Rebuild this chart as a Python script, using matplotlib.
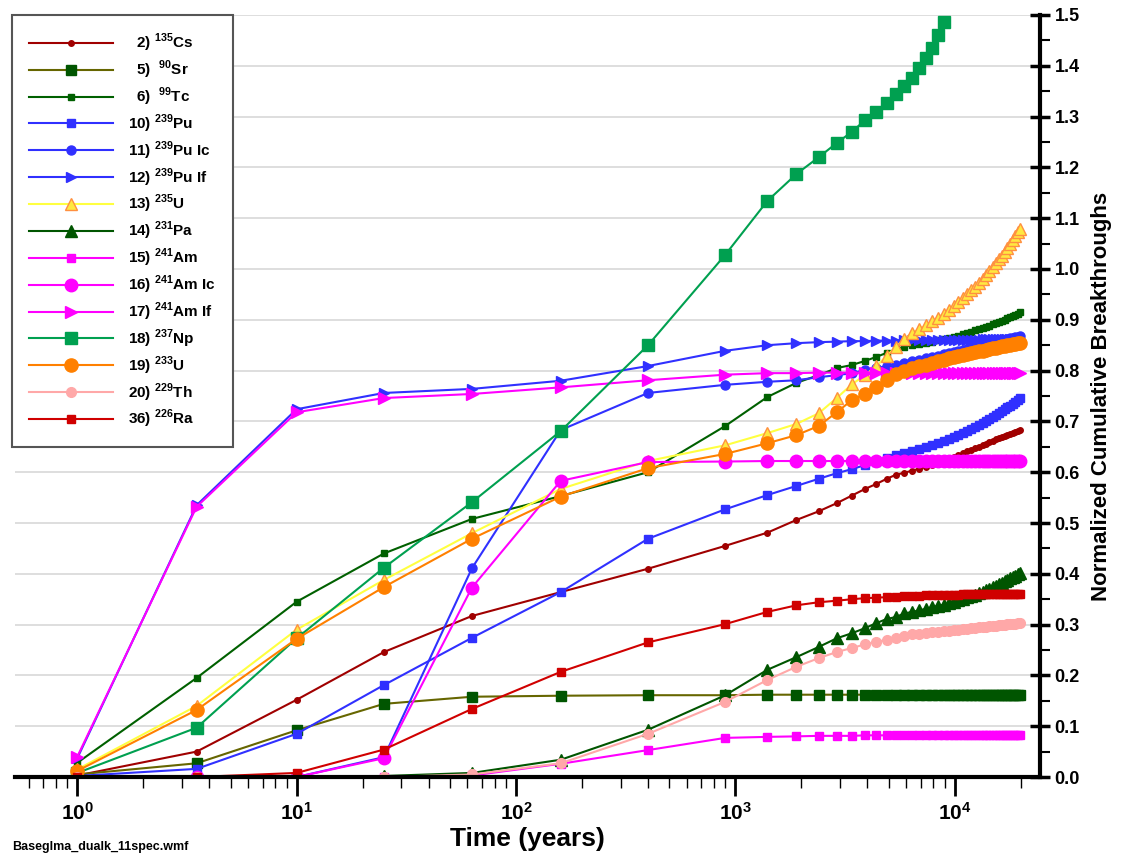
import matplotlib
matplotlib.use("Agg")
import matplotlib.pyplot as plt
from matplotlib.ticker import LogLocator, MultipleLocator, NullFormatter, FixedLocator
import numpy as np

t_early = [1, 3.5, 10, 25, 63, 160, 400, 900]
t_dense = list(range(1400, 20000, 500))  # 38 points
times = t_early + t_dense

cs = [0.003, 0.050, 0.152, 0.246, 0.317, 0.364, 0.410, 0.455,
      0.481, 0.506, 0.523, 0.539, 0.554, 0.567, 0.577, 0.587, 0.595,
      0.599, 0.603, 0.607, 0.611, 0.615, 0.619, 0.623, 0.627, 0.630, 0.634, 0.637, 0.641, 0.644, 0.647,
      0.650, 0.653, 0.656, 0.659, 0.662, 0.665, 0.667, 0.670, 0.672, 0.674, 0.676, 0.678, 0.680, 0.682, 0.683]
sr = [0.005, 0.027, 0.092, 0.144, 0.158, 0.160, 0.161, 0.161] + [0.162] * 38
tc = [0.028, 0.195, 0.345, 0.440, 0.508, 0.553, 0.600, 0.691,
      0.748, 0.776, 0.791, 0.805, 0.811, 0.819, 0.827, 0.835, 0.842, 0.847,
      0.850, 0.852, 0.855, 0.857, 0.860, 0.862, 0.864, 0.867, 0.869, 0.872, 0.874, 0.876, 0.879, 0.881,
      0.884, 0.886, 0.888, 0.891, 0.893, 0.896, 0.898, 0.900, 0.903, 0.905, 0.908, 0.910, 0.912, 0.915]
pu = [0.002, 0.016, 0.085, 0.181, 0.274, 0.364, 0.469, 0.527,
      0.555, 0.573, 0.587, 0.598, 0.606, 0.614, 0.621, 0.628, 0.634, 0.638,
      0.642, 0.646, 0.650, 0.653, 0.657, 0.661, 0.665, 0.669, 0.673, 0.677, 0.681, 0.685, 0.689, 0.692,
      0.696, 0.700, 0.704, 0.708, 0.712, 0.716, 0.720, 0.724, 0.728, 0.731, 0.735, 0.739, 0.743, 0.746]
pu_ic = [0.0, 0.0, 0.0, 0.039, 0.411, 0.683, 0.756, 0.772,
         0.778, 0.781, 0.787, 0.791, 0.795, 0.801, 0.805, 0.809, 0.812,
         0.815, 0.818, 0.821, 0.824, 0.827, 0.829, 0.832, 0.834, 0.837, 0.839, 0.841, 0.843, 0.845, 0.847,
         0.849, 0.851, 0.852, 0.854, 0.855, 0.857, 0.858, 0.860, 0.861, 0.862, 0.864, 0.865, 0.866, 0.867, 0.868]
pu_if = [0.037, 0.535, 0.724, 0.756, 0.764, 0.780, 0.809, 0.839,
         0.850, 0.854, 0.856, 0.857, 0.858, 0.858, 0.859, 0.859, 0.859, 0.860,
         0.860, 0.860, 0.860, 0.860, 0.860, 0.861, 0.861, 0.861, 0.861, 0.861, 0.861, 0.861, 0.861, 0.861,
         0.862, 0.862, 0.862, 0.862, 0.862, 0.862, 0.862, 0.862, 0.862, 0.862, 0.862, 0.862, 0.862, 0.862]
u235 = [0.015, 0.140, 0.290, 0.388, 0.480, 0.567, 0.622, 0.653,
        0.677, 0.695, 0.716, 0.746, 0.773, 0.791, 0.809, 0.829, 0.847, 0.862, 0.874,
        0.882, 0.889, 0.897, 0.904, 0.912, 0.920, 0.927, 0.935, 0.943, 0.950, 0.958, 0.965, 0.973, 0.981,
        0.988, 0.996, 1.003, 1.011, 1.019, 1.026, 1.034, 1.041, 1.049, 1.057, 1.064, 1.072, 1.079]
pa = [0.0, 0.0, 0.0, 0.002, 0.008, 0.034, 0.093, 0.161,
      0.211, 0.236, 0.256, 0.273, 0.283, 0.293, 0.303, 0.311, 0.315, 0.322, 0.325,
      0.328, 0.331, 0.334, 0.337, 0.339, 0.342, 0.345, 0.348, 0.351, 0.354, 0.357, 0.359, 0.362, 0.365,
      0.368, 0.371, 0.374, 0.376, 0.379, 0.382, 0.385, 0.388, 0.391, 0.393, 0.396, 0.399, 0.402]
am = [0.0, 0.0, 0.0, 0.0, 0.003, 0.026, 0.053, 0.077,
      0.079, 0.080, 0.081, 0.081, 0.081, 0.082] + [0.082] * 32
am_ic = [0.0, 0.0, 0.0, 0.037, 0.373, 0.583, 0.620, 0.621] + [0.622] * 38
am_if = [0.040, 0.532, 0.718, 0.746, 0.754, 0.767, 0.781, 0.792,
         0.795, 0.795, 0.796, 0.796] + [0.796] * 34
np237 = [0.008, 0.097, 0.273, 0.412, 0.541, 0.681, 0.850, 1.028,
         1.134, 1.187, 1.220, 1.248, 1.270, 1.293, 1.309, 1.327, 1.344, 1.360, 1.376, 1.396,
         1.415, 1.435, 1.461, 1.487]
u233 = [0.012, 0.132, 0.272, 0.374, 0.469, 0.552, 0.608, 0.636,
        0.657, 0.673, 0.691, 0.718, 0.742, 0.754, 0.768, 0.781, 0.793, 0.799, 0.805,
        0.809, 0.812, 0.815, 0.818, 0.821, 0.824, 0.826, 0.828, 0.830, 0.832, 0.834, 0.836, 0.838, 0.839,
        0.841, 0.842, 0.844, 0.845, 0.846, 0.848, 0.849, 0.850, 0.851, 0.852, 0.853, 0.854, 0.855]
th = [0.0, 0.0, 0.0, 0.0, 0.005, 0.027, 0.085, 0.148,
      0.191, 0.217, 0.234, 0.246, 0.254, 0.261, 0.266, 0.270, 0.274, 0.277, 0.281,
      0.282, 0.284, 0.285, 0.286, 0.287, 0.288, 0.289, 0.290, 0.291, 0.292, 0.293, 0.294, 0.295, 0.295,
      0.296, 0.297, 0.298, 0.298, 0.299, 0.300, 0.300, 0.301, 0.301, 0.302, 0.302, 0.303, 0.303]
ra = [0.0, 0.0, 0.008, 0.054, 0.134, 0.207, 0.265, 0.301,
      0.325, 0.338, 0.344, 0.347, 0.350, 0.352, 0.353, 0.354, 0.355, 0.356,
      0.357, 0.357, 0.358, 0.358, 0.358, 0.359, 0.359, 0.359, 0.359, 0.360, 0.360, 0.360, 0.360, 0.360,
      0.360, 0.360, 0.360, 0.361, 0.361, 0.361, 0.361, 0.361, 0.361, 0.361, 0.361, 0.361, 0.361, 0.361]

labels = ["  2) $^{\\mathbf{135}}$Cs", "  5)  $^{\\mathbf{90}}$Sr", "  6)  $^{\\mathbf{99}}$Tc",
          "10) $^{\\mathbf{239}}$Pu", "11) $^{\\mathbf{239}}$Pu Ic", "12) $^{\\mathbf{239}}$Pu If",
          "13) $^{\\mathbf{235}}$U", "14) $^{\\mathbf{231}}$Pa", "15) $^{\\mathbf{241}}$Am",
          "16) $^{\\mathbf{241}}$Am Ic", "17) $^{\\mathbf{241}}$Am If", "18) $^{\\mathbf{237}}$Np",
          "19) $^{\\mathbf{233}}$U", "20) $^{\\mathbf{229}}$Th", "36) $^{\\mathbf{226}}$Ra"]
series = [cs, sr, tc, pu, pu_ic, pu_if, u235, pa, am, am_ic, am_if, np237, u233, th, ra]
styles = [("#A00000", "o", "#A00000", "#A00000", 4),
          ("#666600", "s", "#005500", "#005500", 7),
          ("#006000", "s", "#006000", "#006000", 4),
          ("#3030FF", "s", "#3030FF", "#3030FF", 5.5),
          ("#3030FF", "o", "#3030FF", "#3030FF", 6.5),
          ("#3030FF", ">", "#3030FF", "#3030FF", 7.5),
          ("#FFFF40", "^", "#FFE840", "#FF9040", 9),
          ("#005500", "^", "#005500", "#005500", 9),
          ("#FF00FF", "s", "#FF00FF", "#FF00FF", 5.5),
          ("#FF00FF", "o", "#FF00FF", "#FF00FF", 9),
          ("#FF00FF", ">", "#FF00FF", "#FF00FF", 9),
          ("#00A050", "s", "#00A050", "#00A050", 8),
          ("#FF8000", "o", "#FF8000", "#FF8000", 9.5),
          ("#FFA8A8", "o", "#FFA8A8", "#FFA8A8", 7),
          ("#D00000", "s", "#D00000", "#D00000", 5.5)]

plt.rcParams['font.family'] = ['Liberation Sans', 'DejaVu Sans']
plt.rcParams['mathtext.fontset'] = 'custom'
plt.rcParams['mathtext.bf'] = 'Liberation Sans:bold'
plt.rcParams['mathtext.rm'] = 'Liberation Sans'

fig = plt.figure(figsize=(11.38, 8.56), dpi=100)
ax = fig.add_axes([15/1138, 1-777/856, (1040-15)/1138, (777-15)/856])

for lab, ys, (lc, mk, mf, me, ms) in zip(labels, series, styles):
    ax.plot(times[:len(ys)], ys, color=lc, lw=1.5, marker=mk, markerfacecolor=mf,
            markeredgecolor=me, markersize=ms, label=lab, clip_on=True)

ax.set_xscale('log')
ax.set_xlim(0.52, 24500)
ax.set_ylim(0, 1.5)
ax.yaxis.tick_right()
ax.yaxis.set_label_position('right')
ax.yaxis.set_minor_locator(MultipleLocator(0.05))
ax.set_yticks(np.arange(0, 1.51, 0.1))
ax.set_yticklabels([f"{v:.1f}" for v in np.arange(0, 1.51, 0.1)], fontweight='bold', fontsize=13)
ax.xaxis.set_major_locator(FixedLocator([1, 10, 100, 1000, 10000]))
ax.set_xticklabels(["$\\mathbf{10^0}$", "$\\mathbf{10^1}$", "$\\mathbf{10^2}$", "$\\mathbf{10^3}$", "$\\mathbf{10^4}$"],
                   fontsize=15)
ax.xaxis.set_minor_locator(LogLocator(base=10, subs=np.arange(2, 10), numticks=20))
ax.xaxis.set_minor_formatter(NullFormatter())
ax.tick_params(axis='x', which='major', direction='out', length=14, width=2, pad=4)
ax.tick_params(axis='x', which='minor', direction='out', length=8, width=1)
ax.tick_params(axis='y', which='major', direction='inout', length=14, width=2.5)
ax.tick_params(axis='y', which='minor', direction='out', length=7, width=1.5)
ax.grid(axis='y', which='major', color='#d8d8d8', lw=1.2)
ax.set_axisbelow(True)
for s in ['top', 'left']:
    ax.spines[s].set_visible(False)
ax.spines['bottom'].set_linewidth(3)
ax.spines['right'].set_linewidth(3)

ax.set_xlabel("Time (years)", fontsize=19, fontweight='bold', labelpad=2)
ax.set_ylabel("Normalized Cumulative Breakthroughs", fontsize=16, fontweight='bold', labelpad=8)

leg = ax.legend(loc='upper left', bbox_to_anchor=(-0.003, 1.0), handlelength=5.5,
                labelspacing=0.3, borderpad=1.1, handletextpad=1.0, borderaxespad=0.0,
                fancybox=False, framealpha=1, edgecolor='#555555',
                prop={'weight': 'bold', 'size': 11})
leg.get_frame().set_linewidth(1.5)

fig.text(12/1138, 1-847/856, "Baseglma_dualk_11spec.wmf", fontsize=9, fontweight='bold', va='center')

fig.savefig("out.png", dpi=100)
